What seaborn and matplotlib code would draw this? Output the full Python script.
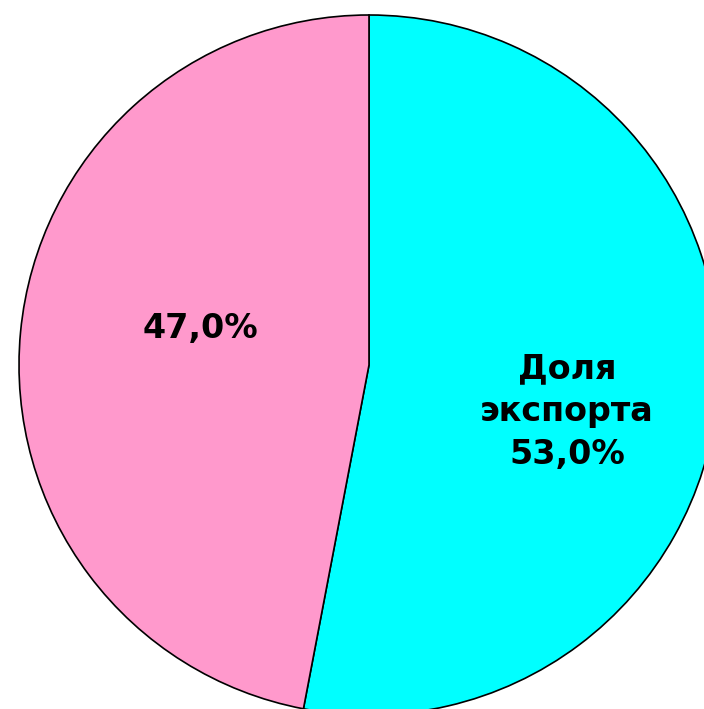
import seaborn as sns
import matplotlib.pyplot as plt

# shares of the pie, clockwise from 12 o'clock
labels = ["Доля\nэкспорта", ""]
shares = [53.0, 47.0]
colors = ["#00FFFF", "#FF99CC"]

sns.set_theme(style="white")
plt.rcParams['font.family'] = ['DejaVu Sans']

fig = plt.figure(figsize=(7.04, 7.09), dpi=100)
ax = fig.add_axes([0, 0, 1, 1])

wedges, _ = ax.pie(shares, colors=colors, startangle=90, counterclock=False,
                   wedgeprops={'edgecolor': 'black', 'linewidth': 1.2})

# axis limits so the circle sits like in the reference (centre 369,365 px, r 350 px)
r = 350.0
ax.set_xlim(-369 / r, (704 - 369) / r)
ax.set_ylim((365 - 709) / r, 365 / r)
ax.set_aspect('auto')
ax.axis('off')

# labels
ax.text(0.566, -0.134, f"{labels[0]}\n{shares[0]:.1f}%".replace('.', ','),
        ha='center', va='center', fontsize=24, fontweight='bold', linespacing=1.38,
        color='black')
ax.text(-0.483, 0.103, f"{shares[1]:.1f}%".replace('.', ','),
        ha='center', va='center', fontsize=24, fontweight='bold', color='black')

fig.savefig("out.png", dpi=100)
